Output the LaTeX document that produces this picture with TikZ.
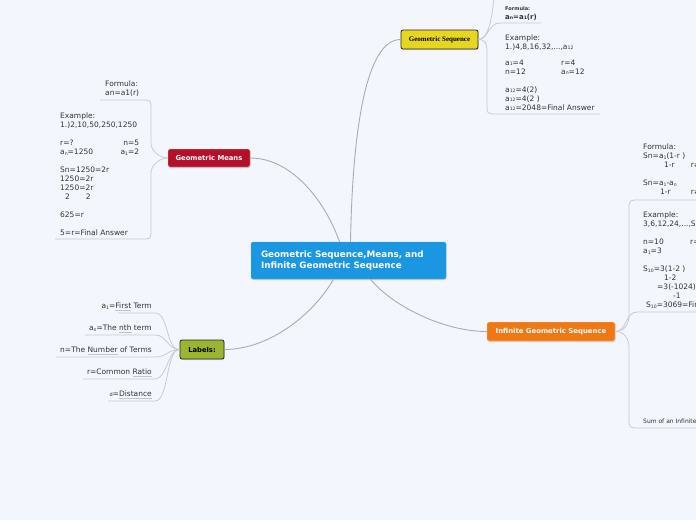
\documentclass[tikz,border=0pt]{standalone}
\usepackage{fontspec}
\setmainfont{DejaVu Sans}
\newfontfamily\serifb{Liberation Serif}
\usetikzlibrary{shadows}
\definecolor{bg}{HTML}{F3F6FD}
\definecolor{cblue}{HTML}{1A96E2}
\definecolor{cyel}{HTML}{E6D61E}
\definecolor{cred}{HTML}{B3102A}
\definecolor{cgreen}{HTML}{9AB52E}
\definecolor{corange}{HTML}{F07814}
\definecolor{mainline}{HTML}{ABABB3}
\definecolor{subline}{HTML}{C9CAD3}
\definecolor{txtc}{HTML}{333333}
\definecolor{ulgray}{HTML}{C3C3CB}
\newcommand\sbx[1]{\raisebox{-0.7pt}{\fontsize{4.6}{5}\selectfont #1}}
\newcommand\rowx[1]{\hbox{#1}}
\newcommand\blk[1]{\vtop{\baselineskip=9pt\lineskiplimit=-20pt\lineskip=0pt #1}}
\newcommand\gul[1]{\setbox0\hbox{#1}\rlap{\textcolor{ulgray}{\rule[-2.7pt]{\wd0}{1.2pt}}}\box0\relax}
\begin{document}
\begin{tikzpicture}[x=1pt,y=-1pt,
  mainnode/.style={rectangle, rounded corners=2pt, inner sep=0pt, minimum height=19pt,
    drop shadow={opacity=0.3, shadow xshift=0.6pt, shadow yshift=-1pt}},
  txt/.style={inner sep=0pt, anchor=base west, text=txtc, font=\fontsize{7.5}{9}\selectfont},
  rtxt/.style={txt, anchor=base east},
  mainlink/.style={draw=mainline, line width=0.9pt},
  sublink/.style={draw=subline, line width=0.8pt}]
\useasboundingbox (0,0) rectangle (696,520);
\fill[bg] (0,0) rectangle (696,520);
\clip (0,0) rectangle (696,520);

% main nodes
\node[mainnode, fill=cblue, draw=cblue!70!white, minimum width=195pt, minimum height=37pt,
  text width=175pt, align=left, text=white, font=\bfseries\fontsize{8.8}{11}\selectfont]
  (root) at (348.5,260.5) {Geometric Sequence,Means, and\\Infinite Geometric Sequence};
\node[mainnode, fill=cyel, draw=black!85, line width=0.8pt, minimum width=77pt,
  font=\serifb\bfseries\fontsize{7}{8}\selectfont] (gs) at (439.5,39.5) {Geometric Sequence};
\node[mainnode, fill=cred, draw=white!75!cred, minimum width=82pt, minimum height=18pt,
  text=white, font=\bfseries\fontsize{6.8}{8}\selectfont] (gm) at (209,158) {Geometric Means};
\node[mainnode, fill=cgreen, draw=black!85, line width=0.8pt, minimum width=44pt,
  font=\bfseries\fontsize{6.8}{8}\selectfont] (lab) at (202,349.5) {Labels:};
\node[mainnode, fill=corange, draw=white!75!corange, minimum width=128pt,
  text=white, font=\bfseries\fontsize{6.9}{8}\selectfont] (inf) at (551,331.5) {Infinite Geometric Sequence};

% main links
\draw[mainlink] (gm.east) .. controls +(42,0) and +(-14,-40) .. ([xshift=-9pt]root.north);
\draw[mainlink] ([xshift=2pt]root.north) .. controls +(2,-110) and +(-35,0) .. (gs.west);
\draw[mainlink] ([xshift=-15pt]root.south) .. controls +(-20,35) and +(45,0) .. (lab.east);
\draw[mainlink] ([xshift=22pt]root.south) .. controls +(20,25) and +(-45,0) .. (inf.west);

% Geometric Sequence children
\coordinate (gsTop) at (494,-2);
\coordinate (gsF) at (500,23);
\coordinate (gsE) at (497,114);
\draw[sublink] (gs.east) .. controls +(10,0) and +(-2,20) .. (gsTop);
\draw[sublink] (gs.east) .. controls +(10,0) and +(-12,0) .. (gsF) -- (541,23);
\draw[sublink] (gs.east) .. controls +(8,0) and +(0,-8) .. (487,53) -- (487,104) .. controls (487,114) .. (gsE) -- (600,114);
\node[txt, font=\bfseries\fontsize{5}{6}\selectfont] (gsf1) at (505,10) {Formula:};
\node[txt, font=\bfseries\fontsize{7}{8}\selectfont] (gsf2) at (505,19) {a\sbx{n}=a\sbx{1}(r)};
\node[txt] (gsex) at (505,40) {\blk{%
  \rowx{Example:}\rowx{1.)4,8,16,32,...,a\sbx{12}}\kern7pt
  \rowx{\makebox[56pt][l]{a\sbx{1}=4}r=4}
  \rowx{\makebox[56pt][l]{n=12}a\sbx{n}=12}\rowx{}
  \rowx{a\sbx{12}=4(2)}\rowx{a\sbx{12}=4(2 )}\rowx{a\sbx{12}=2048=Final Answer}}};

% Geometric Means children
\coordinate (gmF) at (142,100);
\coordinate (gmE) at (142,239);
\draw[sublink] (gm.west) .. controls +(-8,0) and +(0,8) .. (151,143) -- (151,110) .. controls (151,100) .. (gmF) -- (100,100);
\draw[sublink] (gm.west) .. controls +(-8,0) and +(0,-8) .. (151,173) -- (151,229) .. controls (151,239) .. (gmE) -- (55,239);
\node[txt] (gmfo) at (105,86.7) {\blk{\rowx{Formula:}\rowx{an=a1(r)}}};
\node[txt] (gmex) at (60,118.4) {\blk{%
  \rowx{Example:}\rowx{1.)2,10,50,250,1250}\rowx{}
  \rowx{\hbox to 79pt{r=?\hfil n=5}}
  \rowx{\hbox to 79pt{a\sbx{n}=1250\hfil a\sbx{1}=2}}\rowx{}
  \rowx{Sn=1250=2r}\rowx{1250=2r}\rowx{1250=2r}\rowx{\kern5pt 2\kern16pt 2}\rowx{}
  \rowx{625=r}\rowx{}\rowx{5=r=Final Answer}}};

% Labels children
\coordinate (l1) at (155,313);
\coordinate (l2) at (155,335);
\coordinate (l3) at (155,357);
\coordinate (l4) at (155,379);
\coordinate (l5) at (155,401);
\draw[sublink] (lab.west) .. controls +(-14,0) and +(14,0) .. (l1) -- (118,313);
\draw[sublink] (lab.west) .. controls +(-12,0) and +(12,0) .. (l2) -- (85,335);
\draw[sublink] (lab.west) .. controls +(-12,0) and +(12,0) .. (l3) -- (56,357);
\draw[sublink] (lab.west) .. controls +(-12,0) and +(12,0) .. (l4) -- (83,379);
\draw[sublink] (lab.west) .. controls +(-14,0) and +(14,0) .. (l5) -- (108,401);
\node[rtxt] (lt1) at (152,308.3) {a\sbx{1}=\gul{First} Term};
\node[rtxt] (lt2) at (152,330.3) {a\sbx{n}=The \gul{nth} term};
\node[rtxt] (lt3) at (152,352.3) {n=The \gul{Number} of Terms};
\node[rtxt] (lt4) at (152,374.3) {r=Common \gul{Ratio}};
\node[rtxt] (lt5) at (152,396.3) {{\fontsize{5}{6}\selectfont d}=\gul{Distance}};

% Infinite Geometric Sequence children
\coordinate (ifF) at (639,200);
\coordinate (ifE) at (637,312);
\coordinate (ifS) at (639,428);
\draw[sublink] (inf.east) .. controls +(9,0) and +(0,8) .. (629,316) -- (629,210) .. controls (629,200) .. (ifF) -- (700,200);
\draw[sublink] (inf.east) .. controls +(12,0) and +(-12,0) .. (ifE) -- (700,312);
\draw[sublink] (inf.east) .. controls +(9,0) and +(0,-8) .. (629,347) -- (629,418) .. controls (629,428) .. (ifS) -- (700,428);
\node[txt] (iffo) at (643,149.4) {\blk{%
  \rowx{Formula:}\rowx{Sn=a\sbx{1}(1-r )}
  \rowx{\makebox[47.7pt][l]{\kern21pt 1-r}r≠1}\rowx{}
  \rowx{Sn=a\sbx{1}-a\sbx{n}}
  \rowx{\makebox[47.7pt][l]{\kern17pt 1-r}r≠1}}};
\node[txt] (ifex) at (643,217.5) {\blk{%
  \rowx{Example:}\rowx{3,6,12,24,...,S\sbx{10}}\rowx{}
  \rowx{\makebox[47pt][l]{n=10}r=2}\rowx{a\sbx{1}=3}\rowx{}
  \rowx{S\sbx{10}=3(1-2 )}\rowx{\kern21pt 1-2}\rowx{\kern14pt =3(-1024)}
  \rowx{\kern30pt -1}\rowx{\kern3pt S\sbx{10}=3069=Final Answer}}};
\node[txt, font=\fontsize{6}{7}\selectfont] (ifsum) at (643,423) {Sum of an Infinite Geometric Sequence};
\end{tikzpicture}
\end{document}
